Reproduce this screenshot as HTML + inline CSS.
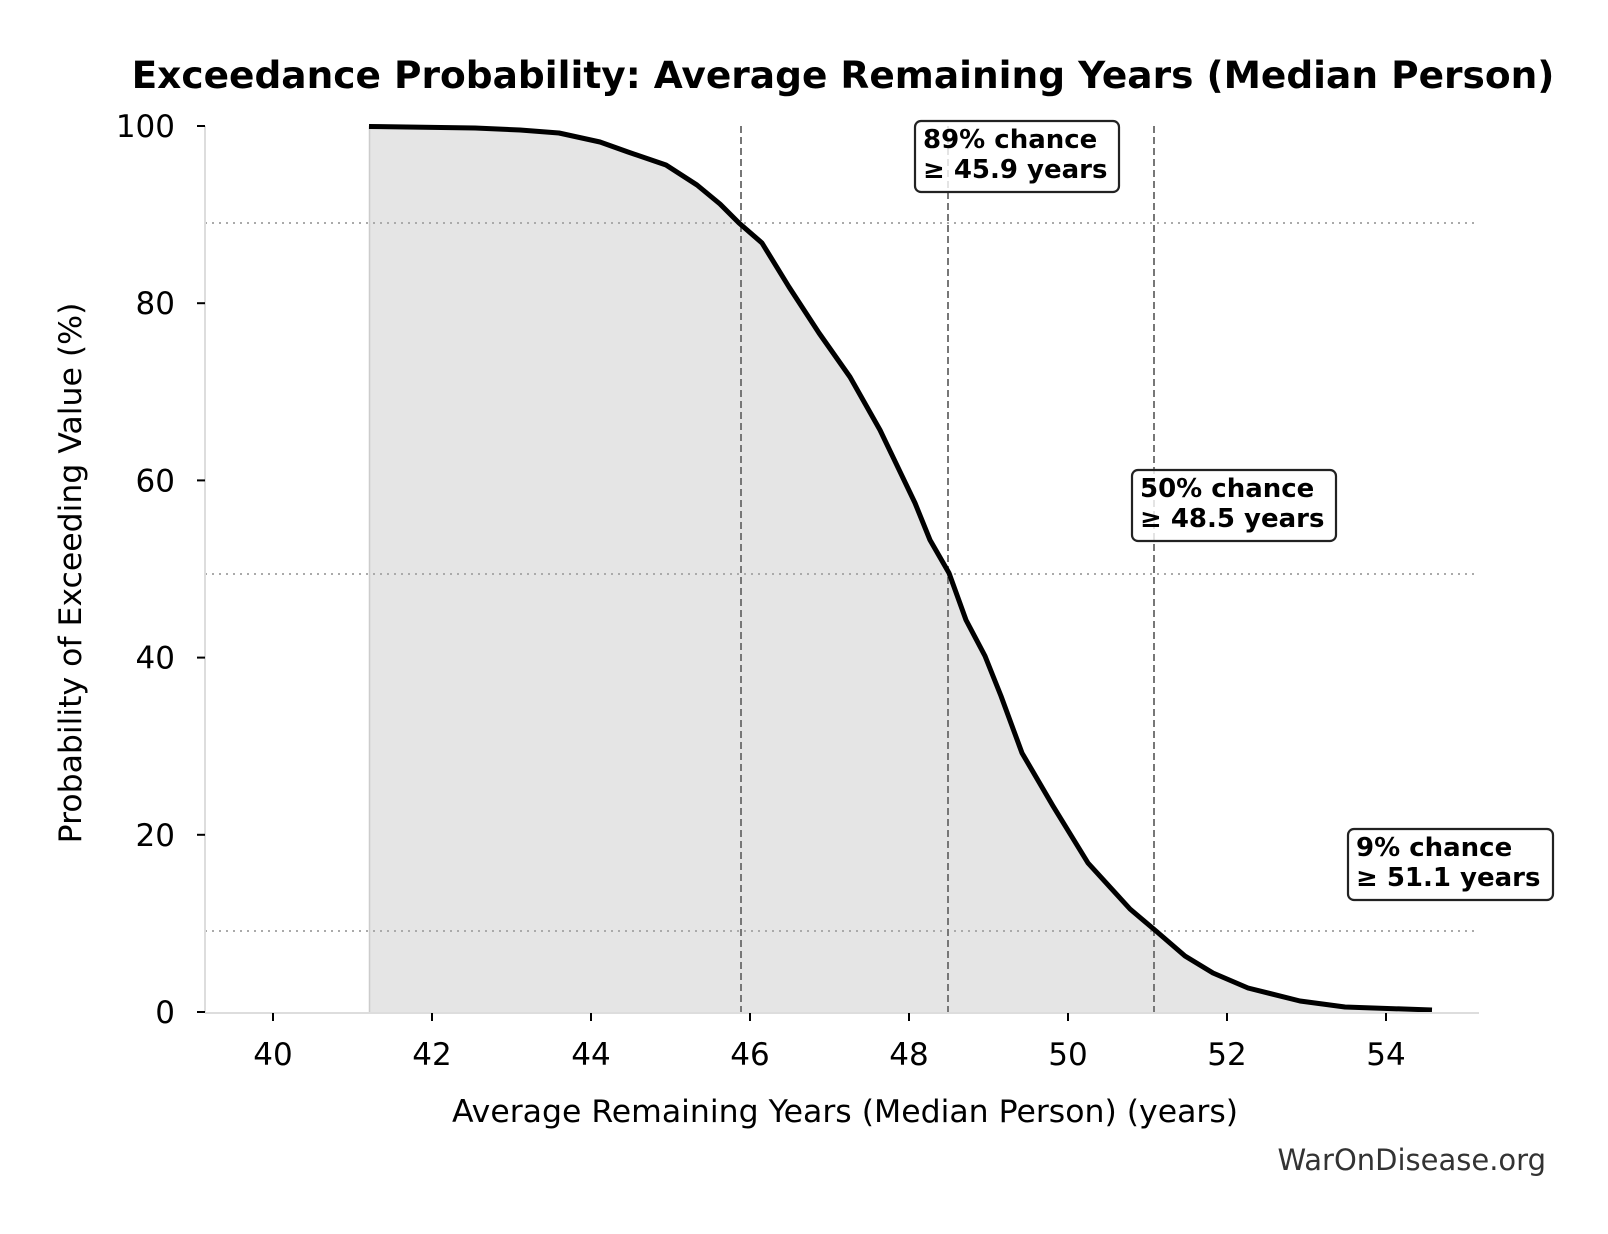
<!DOCTYPE html>
<html><head><meta charset="utf-8"><style>
html,body{margin:0;padding:0;background:#fff}
svg{display:block;font-family:"DejaVu Sans","Liberation Sans",sans-serif}
</style></head><body>
<svg id="s" width="1608" height="1234" viewBox="0 0 1608 1234" xmlns="http://www.w3.org/2000/svg">
<rect width="1608" height="1234" fill="#fff"/>
<text x="843" y="88" text-anchor="middle" font-size="37.5" font-weight="bold">Exceedance Probability: Average Remaining Years (Median Person)</text>
<path id="fill" fill="#e5e5e5" stroke="none"/>
<line x1="369.5" y1="126" x2="369.5" y2="1012" stroke="#ccc" stroke-width="1.5"/>
<g stroke="#aaa" stroke-width="2" stroke-dasharray="2,5">
<line x1="205" y1="223" x2="1479" y2="223"/>
<line x1="205" y1="574" x2="1479" y2="574"/>
<line x1="205" y1="931" x2="1479" y2="931"/>
</g>
<g stroke="#777" stroke-width="2" stroke-dasharray="7,4">
<line x1="741" y1="126" x2="741" y2="1012"/>
<line x1="948" y1="126" x2="948" y2="1012"/>
<line x1="1154" y1="126" x2="1154" y2="1012"/>
</g>
<path id="curve" fill="none" stroke="#000" stroke-width="5" stroke-linejoin="round"/>
<line x1="205" y1="126" x2="205" y2="1013" stroke="#ddd" stroke-width="2"/>
<line x1="205" y1="1013" x2="1479" y2="1013" stroke="#ddd" stroke-width="2"/>
<g stroke="#000" stroke-width="2" id="ticks"></g>
<g font-size="31" text-anchor="end" id="yl"></g>
<g font-size="31" text-anchor="middle" id="xl"></g>
<text x="845" y="1122" font-size="31.5" text-anchor="middle">Average Remaining Years (Median Person) (years)</text>
<text transform="translate(81,573) rotate(-90)" font-size="31.5" text-anchor="middle">Probability of Exceeding Value (%)</text>
<text x="1546" y="1170" font-size="29" text-anchor="end" fill="#333">WarOnDisease.org</text>
<g font-size="26" font-weight="bold">
<rect x="915" y="121" width="204" height="71" rx="6" fill="#fff" fill-opacity="0.8" stroke="#222" stroke-width="2.2"/>
<text x="923" y="148">89% chance</text><text x="923" y="178">≥ 45.9 years</text>
<rect x="1132" y="470" width="204" height="71" rx="6" fill="#fff" fill-opacity="0.8" stroke="#222" stroke-width="2.2"/>
<text x="1140" y="497">50% chance</text><text x="1140" y="527">≥ 48.5 years</text>
<rect x="1348" y="829" width="205" height="71" rx="6" fill="#fff" fill-opacity="0.8" stroke="#222" stroke-width="2.2"/>
<text x="1356" y="856">9% chance</text><text x="1356" y="886">≥ 51.1 years</text>
</g>
</svg>
<script>
function X(v){return 273+(v-40)*79.5;}
function Y(p){return 1012-p*8.86;}
var NS="http://www.w3.org/2000/svg";
function el(par,tag,attrs,txt){var e=document.createElementNS(NS,tag);for(var k in attrs)e.setAttribute(k,attrs[k]);if(txt!=null)e.textContent=txt;document.getElementById(par).appendChild(e);}
for(var p=0;p<=100;p+=20){el("ticks","line",{x1:197,x2:205,y1:Y(p),y2:Y(p)});el("yl","text",{x:175,y:Y(p)+11},String(p));}
for(var v=40;v<=54;v+=2){el("ticks","line",{x1:X(v),x2:X(v),y1:1013,y2:1021});el("xl","text",{x:X(v),y:1065},String(v));}
var pts=[[369,126.5],[475,128],[520,130],[559,133],[600,142],[628,152],[666,165],[697,185],[720,204],[739,223],[762,243],[789,287],[819,333],[850,377],[880,430],[915,503],[930,540],[949,573],[966,620],[985,656],[1001,696],[1022,753],[1053,806],[1088,863],[1130,909],[1156,931],[1185,956],[1213,973],[1248,988],[1300,1001],[1345,1007],[1432,1010]];
var d="M"+pts.map(function(q){return q[0]+","+q[1]}).join(" L");
document.getElementById("curve").setAttribute("d",d);
document.getElementById("fill").setAttribute("d",d+" L1432,1012 L369,1012 Z");
</script>
</body></html>
